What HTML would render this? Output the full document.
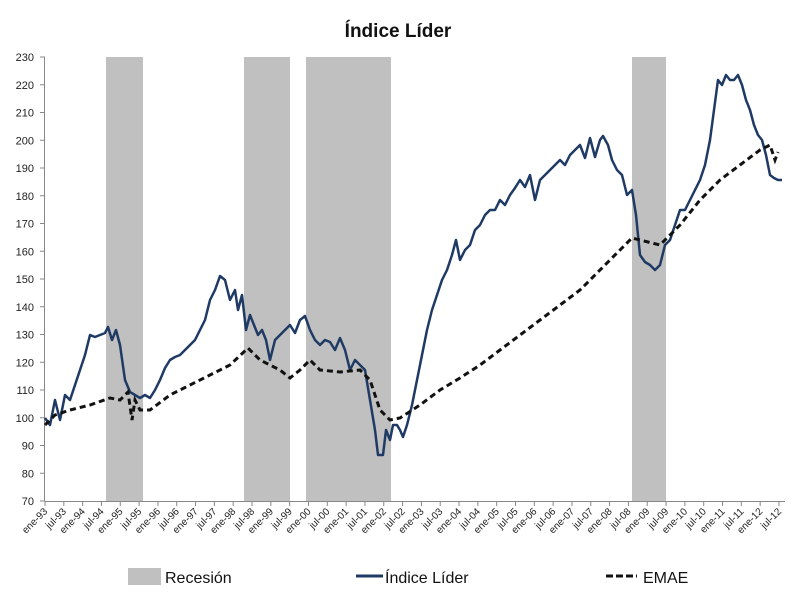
<!DOCTYPE html>
<html><head><meta charset="utf-8"><style>
body{margin:0;background:#fff;}
svg{display:block;font-family:"Liberation Sans",sans-serif;}
</style></head><body>
<svg id="c" width="794" height="600" xmlns="http://www.w3.org/2000/svg">
<rect width="794" height="600" fill="#fff"/>
<text x="398" y="37" text-anchor="middle" font-size="19" font-weight="bold" fill="#111">Índice Líder</text>
<g fill="#c0c0c0">
<rect x="106" y="57" width="37" height="444"/>
<rect x="244" y="57" width="46" height="444"/>
<rect x="306" y="57" width="85" height="444"/>
<rect x="632" y="57" width="34" height="444"/>
</g>
<g id="ax" stroke="#888" stroke-width="1"></g>
<g id="lab" font-size="11" fill="#222"></g>
<polyline fill="none" stroke="#1f3a64" stroke-width="2.5" stroke-linejoin="round" points="45,418 50,425 55,400 60,420 65,395 70,400 75,385 80,370 85,355 90,335 95,337 100,335 105,333 108,327 112,340 116,330 120,345 125,380 130,392 135,395 140,398 145,395 150,398 155,390 160,380 165,368 170,360 175,357 180,355 185,350 190,345 195,340 200,330 205,320 210,300 215,290 220,276 225,280 230,300 235,290 238,310 242,295 246,330 250,315 254,325 258,335 262,330 266,340 270,360 275,340 280,335 285,330 290,325 295,333 300,320 305,316 310,330 315,340 320,345 325,340 330,342 335,350 340,338 345,350 350,370 355,360 360,365 365,370 370,400 375,430 378,455 383,455 386,430 390,440 393,425 397,425 400,430 403,437 407,425 412,405 417,380 422,355 427,330 432,310 437,295 442,280 447,270 452,255 456,240 460,260 465,250 470,245 475,230 480,225 485,215 490,210 495,210 500,200 505,205 510,195 515,188 520,180 525,187 530,175 535,200 540,180 545,175 550,170 555,165 560,160 565,165 570,155 575,150 580,145 585,158 590,138 595,157 600,140 603,136 608,145 612,160 617,170 622,175 627,195 632,190 636,215 640,255 645,262 650,265 655,270 660,265 665,245 670,240 675,225 680,210 685,210 690,200 695,190 700,180 705,165 710,140 714,110 718,80 722,85 726,75 730,80 734,80 738,75 742,85 746,100 750,110 754,125 758,135 762,140 766,155 770,175 774,178 778,180 782,180"/>
<polyline fill="none" stroke="#111" stroke-width="3" stroke-dasharray="6,4" points="45,425 55,415 70,410 90,405 110,398 120,400 128,392 132,420 135,400 140,410 150,410 170,395 190,385 210,375 230,365 248,348 260,360 280,370 290,378 300,370 310,360 320,370 340,372 360,370 370,380 380,410 390,420 400,418 420,405 440,390 460,378 480,365 500,350 520,335 540,320 560,305 580,290 600,270 620,250 632,238 640,240 660,245 680,225 700,200 720,180 740,165 760,150 770,145 775,160 778,152"/>
<rect x="128" y="568" width="33" height="17" fill="#c0c0c0"/>
<text x="165" y="583" font-size="16" fill="#111">Recesión</text>
<line x1="356" y1="576" x2="383" y2="576" stroke="#1f3a64" stroke-width="3"/>
<text x="385" y="583" font-size="16" fill="#111">Índice Líder</text>
<line x1="606" y1="576" x2="637" y2="576" stroke="#111" stroke-width="3" stroke-dasharray="7,3"/>
<text x="643" y="583" font-size="16" fill="#111">EMAE</text>
</svg>
<script>
var ns="http://www.w3.org/2000/svg",ax=document.getElementById("ax"),lab=document.getElementById("lab");
function el(p,t,a){var e=document.createElementNS(ns,t);for(var k in a)e.setAttribute(k,a[k]);p.appendChild(e);return e;}
el(ax,"line",{x1:44.5,y1:57,x2:44.5,y2:501});
el(ax,"line",{x1:44.5,y1:501.5,x2:785,y2:501.5});
for(var v=70;v<=230;v+=10){var y=501-(v-70)*2.775;el(ax,"line",{x1:40,y1:y,x2:45,y2:y});var t=el(lab,"text",{x:34,y:y+4,"text-anchor":"end"});t.textContent=v;}
for(var i=0;i<40;i++){var x=45+i*18.82;el(ax,"line",{x1:x,y1:501,x2:x,y2:506});var yr=93+Math.floor(i/2);var s=(i%2?"jul-":"ene-")+String(yr%100).padStart(2,"0");var t=el(lab,"text",{x:x+3,y:512,"text-anchor":"end","font-size":"10",transform:"rotate(-45 "+(x+3)+" 512)"});t.textContent=s;}
</script>
</body></html>
